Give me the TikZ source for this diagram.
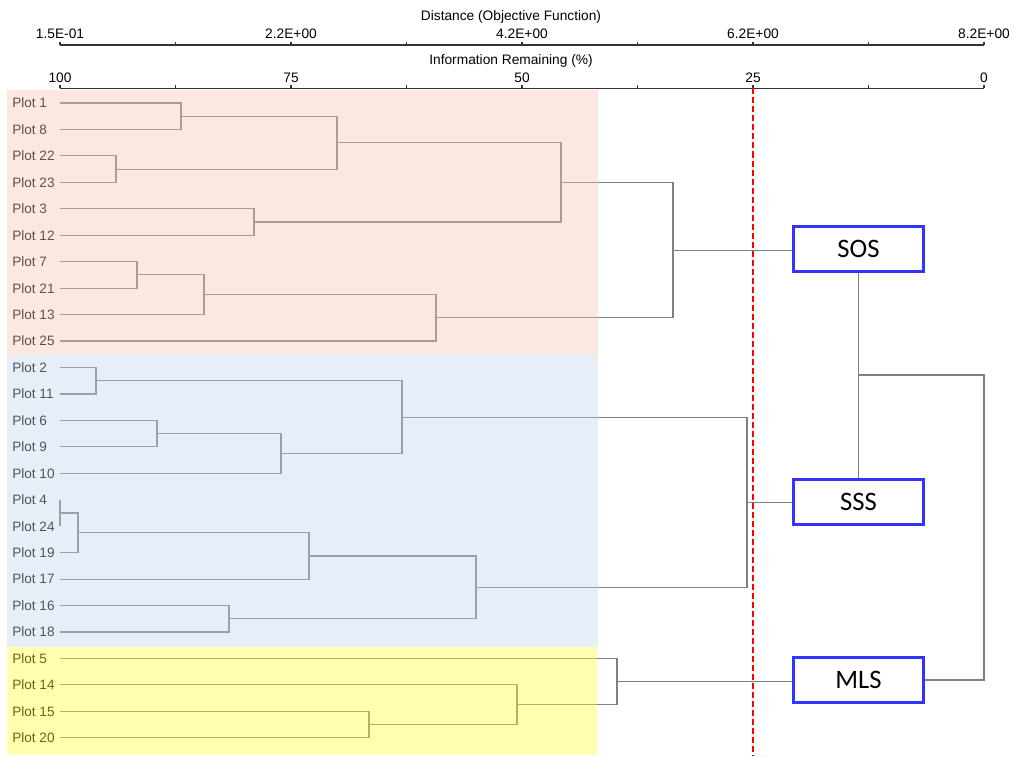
\documentclass[tikz,border=0pt]{standalone}
\usepackage{fontspec}
\setmainfont{Liberation Sans}
\newfontfamily\boxfont{Carlito}
\usepackage{tikz}
\usetikzlibrary{calc}
\usepackage{xcolor}
\definecolor{pinkbg}{RGB}{245,200,177}
\definecolor{bluebg}{RGB}{195,212,235}
\definecolor{yellowbg}{RGB}{255,255,55}
\definecolor{boxcol}{RGB}{51,51,255}
\colorlet{linkcol}{black!50}
\tikzstyle{link}=[linkcol,line width=0.85pt]
\tikzstyle{axis}=[black!80,line width=1.1pt]
\tikzstyle{axlab}=[inner sep=0pt,text=black,font=\fontsize{10.3}{12}\selectfont]
\tikzstyle{leaf}=[anchor=west,inner sep=0pt,text=black,font=\fontsize{10.2}{12}\selectfont]
\tikzstyle{group}=[draw=boxcol,line width=2.2pt,fill=white,minimum width=98pt,minimum height=34pt,inner sep=0pt,font=\boxfont\fontsize{20}{22}\selectfont]
\tikzstyle{band}=[fill opacity=0.4]
\tikzstyle{cut}=[red,line width=1.5pt,dash pattern=on 4.5pt off 2.25pt]
% bracket from two children to a parent at x = #3
\newcommand{\clmerge}[4]{%
  \coordinate (tmp) at ($(#1)!0.5!(#2)$);
  \coordinate (#4) at (#3,0 |- tmp);
  \draw[link] (#1) -| (#4) |- (#2);}

\begin{document}
\begin{tikzpicture}[x=0.75pt,y=-0.75pt]
  \useasboundingbox (0,0) rectangle (1016,756);
  \def\dy{26.45}
  \def\tk{115.5}

  % axes
  \foreach \ya in {45,88.5}{
    \draw[axis] (60,\ya) -- (984,\ya);
    \foreach \k in {0,...,8}
      \draw[axis,line width=0.8pt] (60+\tk*\k,\ya) -- ++(0,-3);
  }
  \node[axlab] (dist) at (511,17) {Distance (Objective Function)};
  \foreach \v [count=\k from 0] in {1.5E-01,2.2E+00,4.2E+00,6.2E+00,8.2E+00}
    \node[axlab] (d\k) at (60+2*\tk*\k,34) {\v};
  \node[axlab] (info) at (511,61) {Information Remaining (\%)};
  \foreach \v [count=\k from 0] in {100,75,50,25,0}
    \node[axlab] (r\k) at (60+2*\tk*\k,78) {\v};

  % leaves
  \foreach \p [count=\i from 0] in {1,8,22,23,3,12,7,21,13,25,2,11,6,9,10,4,24,19,17,16,18,5,14,15,20}{
    \node[leaf] (p\p) at (12,103+\dy*\i) {Plot \p};
    \coordinate (l\p) at (60,103+\dy*\i);
  }

  % SOS
  \clmerge{l1}{l8}{181}{m1}
  \clmerge{l22}{l23}{116}{m2}
  \clmerge{m1}{m2}{337}{m3}
  \clmerge{l3}{l12}{254}{m4}
  \clmerge{m3}{m4}{561}{m5}
  \clmerge{l7}{l21}{137}{m6}
  \clmerge{m6}{l13}{204}{m7}
  \clmerge{m7}{l25}{436}{m8}
  \clmerge{m5}{m8}{673}{cSOS}

  % SSS
  \clmerge{l2}{l11}{96}{m9}
  \clmerge{l6}{l9}{157}{m10}
  \clmerge{m10}{l10}{281}{m11}
  \clmerge{m9}{m11}{402}{m12}
  \clmerge{l4}{l24}{60}{m13}
  \clmerge{m13}{l19}{78}{m14}
  \clmerge{m14}{l17}{309}{m15}
  \clmerge{l16}{l18}{229}{m16}
  \clmerge{m15}{m16}{476}{m17}
  \clmerge{m12}{m17}{747}{cSSS}

  % MLS
  \clmerge{l15}{l20}{369}{m18}
  \clmerge{l14}{m18}{517}{m19}
  \clmerge{l5}{m19}{617}{cMLS}

  % shaded groups
  \fill[band,pinkbg] (7,90) rectangle (598,355);
  \fill[band,bluebg] (7,355) rectangle (598,647);
  \fill[band,yellowbg] (7,647) rectangle (597,755);

  \node[group] (sos) at (858.5,249) {SOS};
  \node[group] (sss) at (858.5,502) {SSS};
  \node[group] (mls) at (858.5,680) {MLS};

  \draw[link] (cSOS) -- (cSOS -| sos.west);
  \draw[link] (cSSS) -- (cSSS -| sss.west);
  \draw[link] (cMLS) -- (cMLS -| mls.west);
  \coordinate (jn) at (858.5,375);
  \coordinate (rc) at (984,375);
  \draw[link] (sos.south) -- (sss.north);
  \draw[link] (mls.east) -| (rc) -- (jn);

  \draw[cut] (752.5,88.5) -- (752.5,756);
\end{tikzpicture}
\end{document}
